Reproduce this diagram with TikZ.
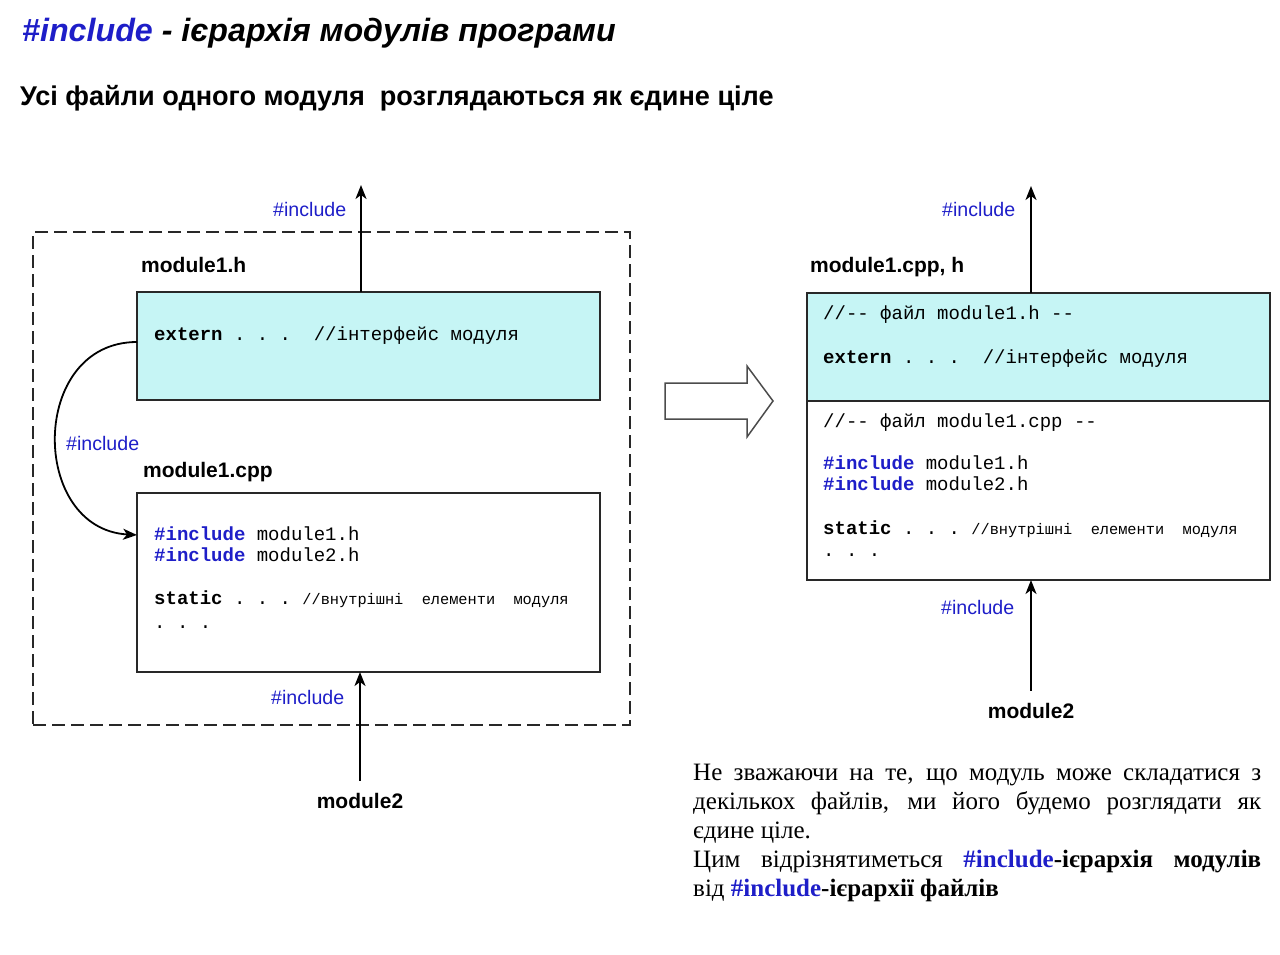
\documentclass[tikz,border=0pt]{standalone}
\usepackage{fontspec}
\setmainfont{Liberation Serif}
\setsansfont{Liberation Sans}
\setmonofont{Liberation Mono}
\usetikzlibrary{calc,arrows.meta,positioning}
\definecolor{incblue}{RGB}{30,30,200}
\definecolor{hcyan}{RGB}{198,245,245}
\definecolor{framegray}{RGB}{40,40,40}
\newcommand{\incl}{\textcolor{incblue}{\textbf{\#include}}}
\newcommand{\cmt}[1]{{\fontsize{15.3}{17}\selectfont #1}}

\begin{document}
\begin{tikzpicture}[x=1pt, y=-1pt, >={Stealth[length=14pt,width=11pt,inset=4pt]},
    filebox/.style={draw=framegray, line width=1.8pt, inner sep=0pt, outer sep=0pt, minimum width=463pt},
    code/.style={anchor=base west, inner sep=0pt, font=\ttfamily\fontsize{19}{21}\selectfont},
    inclabel/.style={anchor=base west, inner sep=0pt, text=incblue, font=\sffamily\fontsize{19.6}{22}\selectfont},
    modname/.style={anchor=base west, inner sep=0pt, font=\sffamily\bfseries\fontsize{21}{24}\selectfont},
    link/.style={-{Stealth[length=14pt,width=11pt,inset=4pt]}, line width=1.8pt}]

    \useasboundingbox (0,0) rectangle (1280,955);

    % headings
    \node[anchor=base west, inner sep=0pt, font=\sffamily\bfseries\itshape\fontsize{32.2}{36}\selectfont] (title) at (22,42) {\textcolor{incblue}{\#include} - ієрархія модулів програми};
    \node[anchor=base west, inner sep=0pt, font=\sffamily\bfseries\fontsize{27.1}{30}\selectfont] (sub) at (20,106) {Усі файли одного модуля~ розглядаються як єдине ціле};

    % left: the module as a group of files
    \node[draw=framegray, dash pattern=on 13pt off 6pt, line width=1.4pt, inner sep=0pt, minimum width=597pt, minimum height=493pt] (group) at (331.5,478.5) {};
    \node[filebox, fill=hcyan, minimum height=108pt] (h) at (368.5,346) {};
    \node[filebox, fill=white, minimum height=179pt] (cpp) at (368.5,582.5) {};
    \node[modname] (hname) at (141,272) {module1.h};
    \node[modname] (cppname) at (143,477) {module1.cpp};

    \node[code] (h1) at (154,340) {\textbf{extern} . . .\ \ //інтерфейс модуля};
    \node[code] (c1) at (154,540) {\incl{} module1.h};
    \node[code] (c2) at (154,561) {\incl{} module2.h};
    \node[code] (c3) at (154,604) {\textbf{static} . . . \cmt{//внутрішні\ \ елементи\ \ модуля}};
    \node[code] (c4) at (154,628) {. . .};

    \coordinate (upL) at (361,185);
    \draw[link] (h.north -| upL) -- (upL);
    \node[inclabel] (iu) at (273,216) {\#include};
    \draw[link] ($(h.west)+(0,-4)$) .. controls +(-108,0) and +(-108,-6) .. ($(cpp.north west)+(0,42)$);
    \node[inclabel] (ic) at (66,450) {\#include};
    \node[modname, anchor=base] (m2L) at (360,808) {module2};
    \draw[link] ([yshift=12pt]m2L.north) -- (m2L.north |- cpp.south);
    \node[inclabel] (id) at (271,704) {\#include};

    % hollow arrow
    \draw[line width=1.5pt, draw=black!70, line join=miter] (665,383) -- (747,383) -- (747,366) -- (773,401) -- (747,437) -- (747,419) -- (665,419) -- cycle;

    % right: the module as one whole
    \node[filebox, fill=hcyan, minimum height=108pt] (rh) at (1038.5,347) {};
    \node[filebox, fill=white, minimum height=179pt] (rcpp) at (1038.5,490.5) {};
    \node[modname] (rname) at (810,272) {module1.cpp, h};

    \node[code] (r1) at (823,319) {//-{}- файл module1.h -{}-};
    \node[code] (r2) at (823,363) {\textbf{extern} . . .\ \ //інтерфейс модуля};
    \node[code] (r3) at (823,427) {//-{}- файл module1.cpp -{}-};
    \node[code] (r4) at (823,469) {\incl{} module1.h};
    \node[code] (r5) at (823,490) {\incl{} module2.h};
    \node[code] (r6) at (823,534) {\textbf{static} . . . \cmt{//внутрішні\ \ елементи\ \ модуля}};
    \node[code] (r7) at (823,556) {. . .};

    \coordinate (upR) at (1031,186);
    \draw[link] (rh.north -| upR) -- (upR);
    \node[inclabel] (iru) at (942,216) {\#include};
    \node[modname, anchor=base] (m2R) at (1031,718) {module2};
    \draw[link] ([yshift=12pt]m2R.north) -- (m2R.north |- rcpp.south);
    \node[inclabel] (ird) at (941,614) {\#include};

    % note
    \node[anchor=north west, inner sep=0pt, text width=568pt, align=justify, font=\rmfamily\fontsize{25}{29}\selectfont] (txt) at (693,764) {Не зважаючи на те, що модуль може складатися з\linebreak декількох файлів, ми його будемо розглядати як\linebreak єдине ціле.\\ Цим відрізнятиметься \textbf{\textcolor{incblue}{\#include}-ієрархія модулів}\linebreak від \textbf{\textcolor{incblue}{\#include}-ієрархії файлів}};
\end{tikzpicture}
\end{document}
